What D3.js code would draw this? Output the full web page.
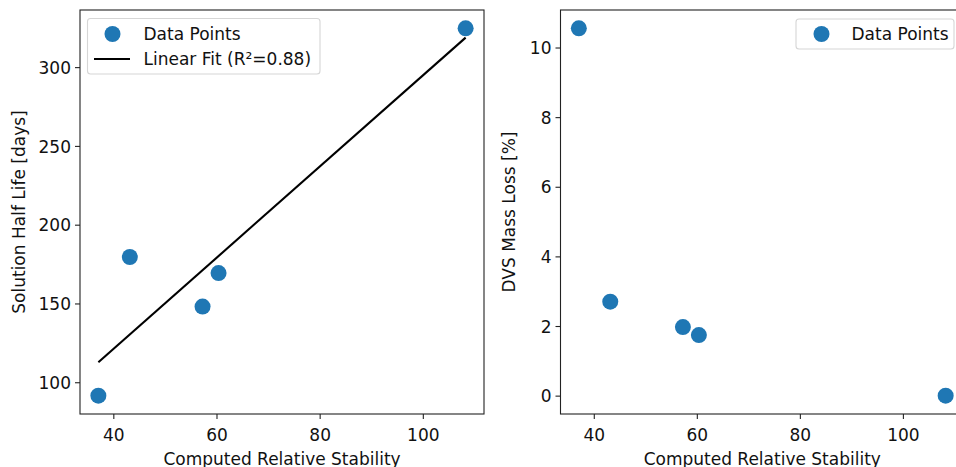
<!DOCTYPE html>
<html>
<head>
<meta charset="utf-8">
<script src="https://cdn.jsdelivr.net/npm/d3@7"></script>
<style>
  html, body { margin: 0; padding: 0; background: #fff; overflow: hidden; }
  svg { display: block; font-family: "DejaVu Sans", sans-serif; }
</style>
</head>
<body>
<svg id="chart" width="956" height="467"></svg>
<script>
// Measurements per sample
const stability = [37.1, 43.2, 57.3, 60.4, 108.3];
const halfLife  = [91.5, 179.5, 148.0, 169.3, 324.6];
const massLoss  = [10.55, 2.70, 1.97, 1.74, 0.0];

const xTicks = [40, 60, 80, 100];
const halfLifeTicks = [100, 150, 200, 250, 300];
const massLossTicks = [0, 2, 4, 6, 8, 10];

const FONT = 17;
const BLUE = "#1f77b4";
const svg = d3.select("#chart");

// Extent padded by 5% on each side
function padded(vals) {
  const [lo, hi] = d3.extent(vals);
  const m = (hi - lo) * 0.05;
  return [lo - m, hi + m];
}

// Least-squares fit of halfLife on stability
function linfit(xs, ys) {
  const mx = d3.mean(xs), my = d3.mean(ys);
  let sxy = 0, sxx = 0, syy = 0;
  xs.forEach((x, i) => {
    sxy += (x - mx) * (ys[i] - my);
    sxx += (x - mx) ** 2;
    syy += (ys[i] - my) ** 2;
  });
  const slope = sxy / sxx;
  return { slope, intercept: my - slope * mx, r2: (sxy * sxy) / (sxx * syy) };
}

function panel(opts) {
  const { left, right, top, bottom, yVals, yTicks, yLabel, yLabelX } = opts;
  const g = svg.append("g");
  const x = d3.scaleLinear().domain(padded(stability)).range([left, right]);
  const y = d3.scaleLinear().domain(padded(yVals)).range([bottom, top]);

  // x axis
  const xa = g.append("g").attr("transform", `translate(0,${bottom})`)
    .call(d3.axisBottom(x).tickValues(xTicks).tickSize(5).tickPadding(4).tickFormat(d3.format("d")));
  // y axis
  const ya = g.append("g").attr("transform", `translate(${left},0)`)
    .call(d3.axisLeft(y).tickValues(yTicks).tickSize(5).tickPadding(4).tickFormat(d3.format("d")));
  [xa, ya].forEach(a => {
    a.select(".domain").remove();
    a.selectAll(".tick line").attr("stroke", "#222").attr("stroke-width", 1.1);
    a.selectAll(".tick text").attr("fill", "#111").style("font-size", FONT + "px")
      .style("font-family", "DejaVu Sans");
  });
  xa.selectAll(".tick text").attr("dy", null).attr("y", 0)
    .attr("transform", "translate(0,27)");
  ya.selectAll(".tick text").attr("dy", "0.36em");

  // frame
  g.append("rect").attr("x", left).attr("y", top)
    .attr("width", right - left).attr("height", bottom - top)
    .attr("fill", "none").attr("stroke", "#222").attr("stroke-width", 1.1);

  // axis titles
  g.append("text").attr("x", (left + right) / 2).attr("y", 464.5)
    .attr("text-anchor", "middle").style("font-size", FONT + "px").attr("fill", "#111")
    .text("Computed Relative Stability");
  g.append("text")
    .attr("transform", `translate(${yLabelX},${(top + bottom) / 2}) rotate(-90)`)
    .attr("text-anchor", "middle").style("font-size", FONT + "px").attr("fill", "#111")
    .text(yLabel);

  return { g, x, y };
}

function legendBox(g, x0, y0, x1, y1) {
  g.append("rect").attr("x", x0).attr("y", y0)
    .attr("width", x1 - x0).attr("height", y1 - y0).attr("rx", 3)
    .attr("fill", "#fff").attr("fill-opacity", 0.8)
    .attr("stroke", "#d6d6d6").attr("stroke-width", 1.1);
}

// ---- Left: solution half life ----
const L = panel({ left: 80, right: 484, top: 10, bottom: 414,
  yVals: halfLife, yTicks: halfLifeTicks,
  yLabel: "Solution Half Life [days]", yLabelX: 25 });

const fit = linfit(stability, halfLife);
const fitX = d3.extent(stability);
L.g.append("path")
  .datum(fitX.map(v => [v, fit.intercept + fit.slope * v]))
  .attr("d", d3.line().x(d => L.x(d[0])).y(d => L.y(d[1])))
  .attr("fill", "none").attr("stroke", "#000").attr("stroke-width", 2.1);

L.g.selectAll("circle.pt").data(stability).join("circle").attr("class", "pt")
  .attr("cx", d => L.x(d)).attr("cy", (d, i) => L.y(halfLife[i]))
  .attr("r", 8).attr("fill", BLUE);

legendBox(L.g, 87.5, 18.5, 320, 74);
L.g.append("circle").attr("cx", 112.5).attr("cy", 34).attr("r", 8).attr("fill", BLUE);
L.g.append("line").attr("x1", 94).attr("x2", 130).attr("y1", 59).attr("y2", 59)
  .attr("stroke", "#000").attr("stroke-width", 2.1);
L.g.append("text").attr("x", 143.5).attr("y", 39.8).style("font-size", FONT + "px")
  .attr("fill", "#111").text("Data Points");
L.g.append("text").attr("x", 143.5).attr("y", 64.8).style("font-size", FONT + "px")
  .attr("fill", "#111").text(`Linear Fit (R\u00B2=${fit.r2.toFixed(2)})`);

// ---- Right: DVS mass loss ----
const R = panel({ left: 560.5, right: 964, top: 10, bottom: 414,
  yVals: massLoss, yTicks: massLossTicks,
  yLabel: "DVS Mass Loss [%]", yLabelX: 515 });

R.g.selectAll("circle.pt").data(stability).join("circle").attr("class", "pt")
  .attr("cx", d => R.x(d)).attr("cy", (d, i) => R.y(massLoss[i]))
  .attr("r", 8).attr("fill", BLUE);

legendBox(R.g, 796, 19, 954, 49);
R.g.append("circle").attr("cx", 821.5).attr("cy", 34).attr("r", 8).attr("fill", BLUE);
R.g.append("text").attr("x", 851.5).attr("y", 39.8).style("font-size", FONT + "px")
  .attr("fill", "#111").text("Data Points");
</script>
</body>
</html>
